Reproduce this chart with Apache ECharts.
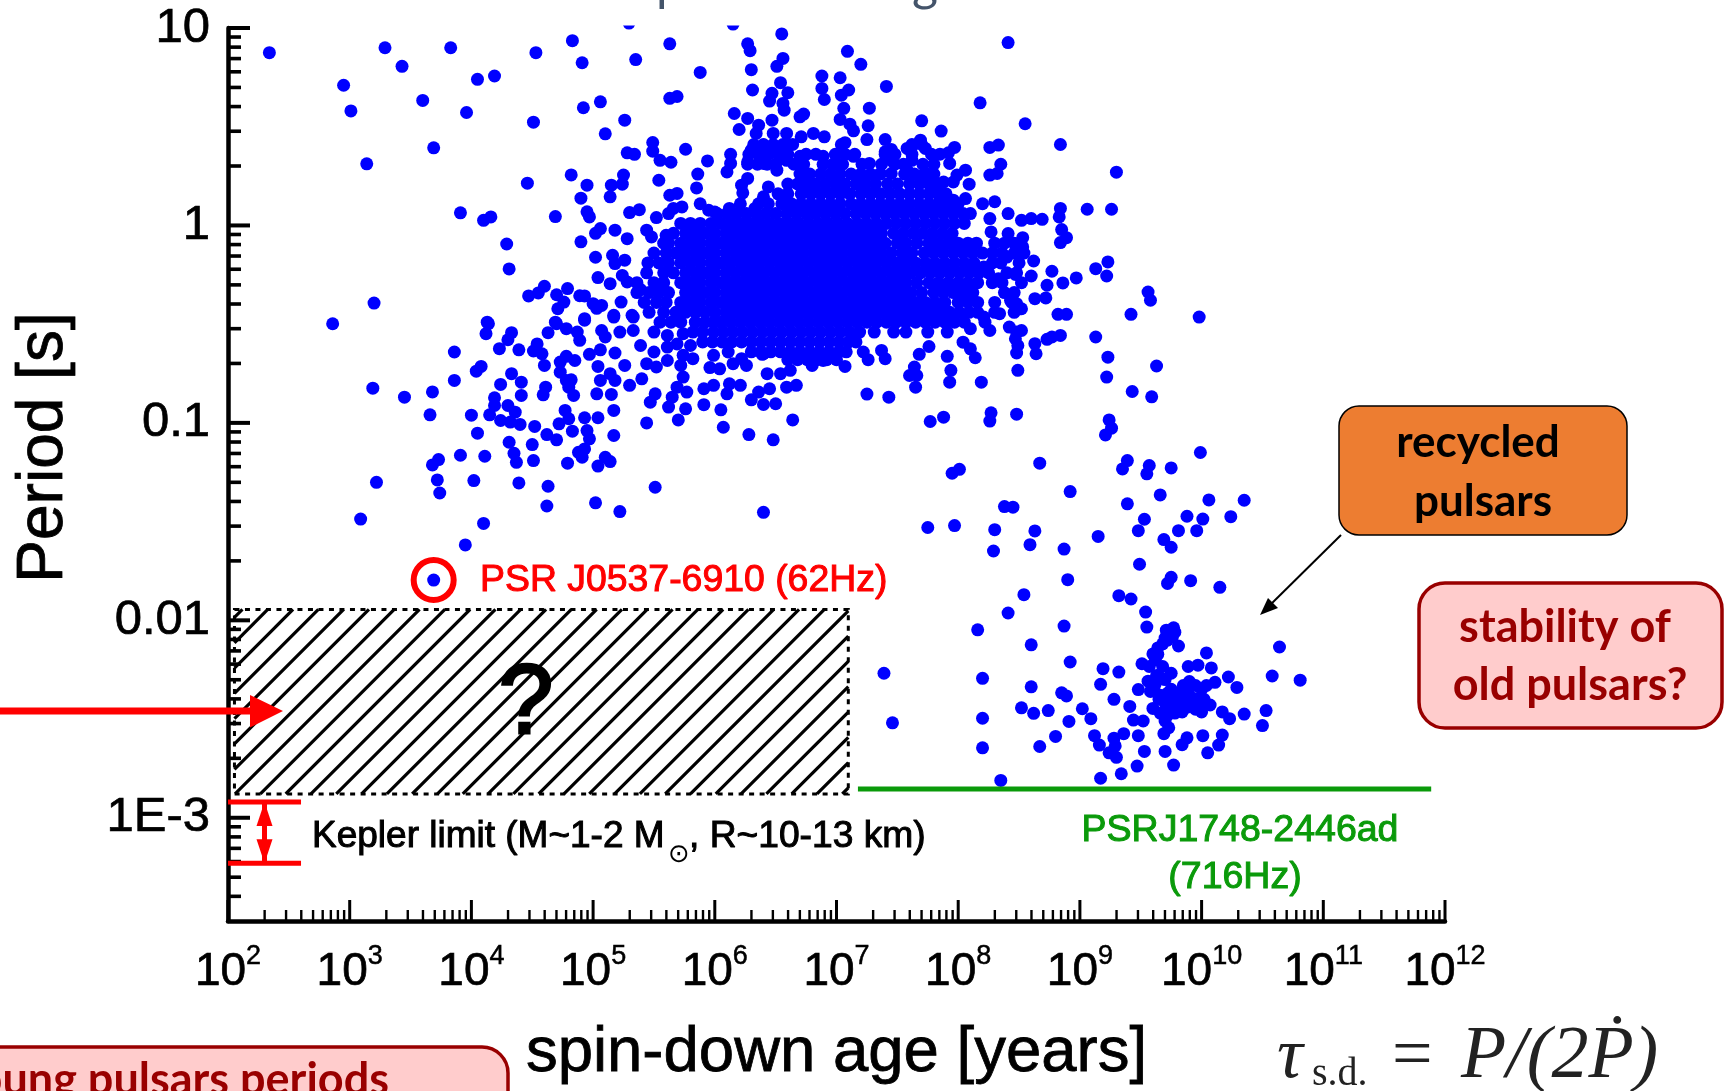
<!DOCTYPE html>
<html>
<head>
<meta charset="utf-8">
<title>Pulsar periods vs spin-down age</title>
<script src="https://cdn.jsdelivr.net/npm/echarts@6/dist/echarts.min.js"></script>
<style>
  html, body { margin: 0; padding: 0; background: #fff; }
  #chart { width: 1729px; height: 1091px; }
</style>
</head>
<body>
<div id="chart"></div>
<script>
// all pulsars as [log10 age in years, log10 period in s]
const scatteredPulsars = [
  [2.34,.875],[3.29,.90],[3.43,.806],[3.83,.90],[4.53,.875],[4.83,.936],[4.91,.824],[5.35,.84],[5.63,.92],[2.95,.71],
  [3.01,.58],[4.05,.74],[4.19,.757],[3.60,.633],[3.96,.572],[4.51,.523],[4.92,.596],[5.06,.626],[5.26,.533],[5.10,.464],
  [3.69,.393],[3.14,.312],[4.46,.214],[4.82,.256],[4.95,.204],[4.90,.138],[5.49,.42],[5.49,.376],[5.28,.368],[5.34,.36],
  [5.76,.386],[5.55,.33],[5.64,.32],[5.25,.255],[5.24,.209],[5.15,.204],[5.14,.145],[5.54,.229],[5.86,.26],[5.85,.19],
  [5.63,.153],[5.69,.162],[5.66,.086],[5.73,.094],[5.30,.065],[5.38,.08],[5.52,.04],[5.62,.06],[4.69,.045],[3.91,.064],
  [4.10,.026],[4.16,.043],[4.95,.069],[4.97,.043],[4.29,-.094],[4.31,-.22],[4.90,-.083],[5.02,-.161],[5.06,-.016],[5.02,-.04],
  [5.18,-.024],[5.28,-.067],[5.44,-.024],[5.48,-.058],[5.60,-.05],[5.58,-.09],[5.16,-.151],[5.26,-.176],[5.18,-.193],[5.24,-.253],
  [5.04,-.264],[5.14,-.295],[5.28,-.286],[5.39,-.325],[4.60,-.308],[4.55,-.342],[4.47,-.357],[4.79,-.32],[4.70,-.351],[4.76,-.388],
  [4.71,-.422],[4.89,-.356],[4.93,-.357],[5.00,-.396],[5.07,-.405],[5.03,-.42],[5.17,-.455],[5.32,-.455],[4.93,-.472],[5.23,-.388],
  [3.20,-.393],[2.86,-.498],[4.13,-.49],[4.69,-.49],[5.63,.644],[5.69,.653],[5.295,1.025],[6.15,1.02],
  [6.55,.97],[6.27,.92],[6.29,.885],[6.56,.846],[6.51,.806],[6.30,.789],[5.88,.775],[5.94,.327],[6.10,.271],[6.13,.314],
  [6.13,.36],[6.16,.567],[6.27,.542],[6.36,.508],[6.20,.486],[6.47,.533],[6.31,.686],[6.54,.723],[6.60,.672],[6.47,.669],
  [6.45,.63],[6.56,.618],[6.57,.584],[6.70,.55],[6.73,.564],[6.88,.757],[6.88,.694],[6.90,.638],[7.03,.748],[7.10,.686],
  [7.04,.66],[7.09,.882],[7.20,.816],[7.41,.704],[7.06,.593],[7.03,.537],[7.11,.513],[7.14,.479],[7.27,.594],[7.26,.505],
  [7.25,.435],[7.70,.53],[7.86,.478],[8.41,.926],[8.18,.621],[8.55,.515],[8.84,.41],[9.30,.27],[8.33,.407],[8.26,.395],
  [8.35,.31],[8.32,.263],[8.26,.255],[8.09,.209],[8.06,.28],[7.97,.395],[7.93,.314],[7.99,.255],[7.85,.361],[7.92,.368],
  [8.84,.086],[8.83,.043],[9.06,.082],[9.26,.082],[8.69,.031],[8.60,.035],[8.52,.026],[8.41,.06],[8.30,.12],[8.20,.11],
  [8.06,.136],[7.96,.128],[8.26,.035],[8.27,-.033],[8.85,-.021],[8.89,-.062],[8.84,-.087],[8.41,-.041],[8.53,-.062],[8.53,-.109],
  [8.62,-.18],[9.23,-.185],[9.13,-.219],[9.22,-.256],[8.77,-.232],[8.60,-.256],[8.97,-.266],[8.86,-.291],[8.73,-.303],[8.63,-.371],
  [8.72,-.367],[8.82,-.45],[8.89,-.45],[9.42,-.45],[8.47,-.248],[8.33,-.27],[8.21,-.21],[8.44,-.354],[8.51,-.422],[8.40,-.16],
  [7.69,.432],[7.62,.398],[7.58,.39],[7.73,.39],[7.40,.435],[7.45,.385],[7.40,.373],[7.45,.33],[7.36,.263],[7.45,.263],
  [7.62,.33],[7.73,.266],[7.58,.28],[7.88,.22],[7.96,.22],[7.82,.178],[7.85,.128],[7.07,.419],[6.90,.449],[6.81,.466],
  [6.71,.449],[6.59,.466],[6.48,.466],[6.34,.466],[6.59,.415],[6.30,.381],[6.40,.407],[6.52,.373],[6.27,.322],[6.40,.314],
  [6.51,.28],[6.59,.33],[6.70,.35],[6.89,.35],[7.00,.314],[7.14,.35],[7.27,.314],[6.22,.204],[6.27,.238],[6.23,.165],
  [6.44,.195],[6.40,.145],[6.21,.11],[6.12,.086],[6.33,.086],[5.88,.11],[5.95,.077],[6.00,.068],
  [4.14,-.498],[4.12,-.548],[4.33,-.543],[4.30,-.579],[3.86,-.641],[4.23,-.624],[4.39,-.63],[4.63,-.543],[4.70,-.498],[4.78,-.523],
  [4.87,-.54],[4.93,-.48],[4.89,-.582],[4.54,-.6],[4.51,-.636],[4.58,-.65],[4.60,-.709],[4.78,-.663],[4.85,-.684],[4.73,-.692],
  [4.73,-.743],[4.78,-.785],[4.82,-.782],[4.80,-.819],[4.84,-.861],[4.08,-.714],[4.04,-.738],[3.86,-.785],[4.33,-.751],[4.24,-.805],
  [4.41,-.794],[4.41,-.861],[4.61,-.819],[4.59,-.858],[3.19,-.824],[3.45,-.87],[3.68,-.843],[3.66,-.959],[4.19,-.873],[4.19,-.912],
  [4.15,-.959],[4.00,-.961],[4.30,-.912],[4.36,-.946],[4.24,-.988],[4.32,-.996],[4.40,-1.008],[4.05,-1.052],[4.52,-1.018],[4.77,-.937],
  [4.80,-.979],[4.72,-1.005],[4.83,-1.042],[4.93,-.974],[5.04,-.974],[5.17,-.937],[4.62,-1.059],[4.70,-1.086],[4.95,-1.039],[4.97,-1.081],
  [5.17,-1.064],[4.31,-1.098],[4.50,-1.11],[4.35,-1.154],[4.37,-1.2],[4.51,-1.191],[4.88,-1.149],[4.93,-1.132],[4.91,-1.174],[4.79,-1.204],
  [5.10,-1.174],[5.04,-1.219],[5.14,-1.196],[3.91,-1.164],[4.11,-1.169],[3.73,-1.186],[3.68,-1.213],[3.72,-1.289],[3.74,-1.355],[4.02,-1.292],
  [4.39,-1.304],[4.63,-1.321],[4.62,-1.421],[5.02,-1.405],[5.22,-1.449],[3.22,-1.301],[3.09,-1.487],[4.10,-1.509],[3.95,-1.618],[5.51,-1.326],
  [6.40,-1.453],[3.69,-1.796],
  [5.06,-.785],[5.14,-.751],[5.18,-.785],[5.03,-.853],[5.15,-.856],[5.30,-.81],[5.26,-.709],[5.18,-.646],[5.04,-.714],[4.97,-.653],
  [5.06,-.63],[5.10,-.565],[5.07,-.532],[5.17,-.464],[5.22,-.54],[5.33,-.464],[5.40,-.777],[5.51,-.853],[5.47,-.895],[5.44,-1.0],
  [5.65,-.87],[5.62,-.92],[5.76,-.929],[5.70,-.985],[5.77,-.844],[5.69,-.819],[5.74,-.768],[5.91,-.908],[5.91,-.827],[5.99,-.81],
  [6.05,-.934],[6.07,-1.022],[6.28,-1.059],[6.48,-1.086],[6.64,-.985],[6.10,-.853],[6.12,-.802],[6.21,-.81],[6.30,-.883],[6.36,-.844],
  [6.45,-.827],[6.40,-.907],[6.50,-.903],[6.59,-.819],[6.67,-.81],[6.43,-.751],[6.54,-.751],[6.39,-.653],[6.26,-.709],[6.15,-.7],
  [5.99,-.658],[6.04,-.726],[5.96,-.72],[6.11,-.641],[6.22,-.675],[5.33,-.532],[5.39,-.608],[5.50,-.54],[5.61,-.557],[5.74,-.548],
  [5.80,-.608],[5.82,-.675],[5.50,-.641],[5.61,-.616],[5.69,-.6],[5.44,-.7],[5.52,-.717],[5.61,-.684],[5.72,-.709],[5.74,-.658],
  [9.56,-.337],[9.58,-.379],[9.98,-.464],[9.13,-.565],[9.23,-.667],[9.63,-.712],[9.22,-.768],[9.43,-.841],[9.59,-.868],[9.24,-.985],
  [9.26,-1.027],[9.21,-1.061],[8.84,-.557],[8.77,-.565],[8.73,-.577],[8.63,-.599],[8.64,-.65],[8.48,-.646],[8.49,-.608],[8.47,-.574],
  [8.49,-.734],[8.19,-.794],[7.94,-.734],[7.93,-.794],[7.65,-.819],[7.60,-.76],[7.66,-.76],[7.64,-.717],[7.25,-.854],[7.43,-.87],
  [7.77,-.993],[7.88,-.971],[8.27,-.949],[8.26,-.991],[8.48,-.956],[7.76,-.613],[7.68,-.653],[7.91,-.663],[8.04,-.591],[8.10,-.625],
  [8.14,-.67],[7.37,-.633],[7.40,-.675],[7.22,-.641],[7.26,-.68],[7.07,-.714],[6.80,-.709],[6.89,-.684],[6.62,-.734],[6.40,-.65],
  [8.10,-.523],[8.26,-.532],[8.42,-.515],[8.48,-.54],[8.52,-.532],[8.52,-.422],[8.43,-.379],[8.48,-.396],[8.21,-.464],[8.34,-.447]
];

const recycledPulsars = [
  [9.99,-1.15],[8.67,-1.204],[9.39,-1.191],[9.35,-1.233],[9.57,-1.216],[9.55,-1.258],[9.75,-1.228],[8.01,-1.235],[7.95,-1.255],[8.92,-1.348],
  [8.38,-1.424],[8.45,-1.427],[9.66,-1.365],[9.39,-1.41],[10.06,-1.39],[10.35,-1.392],[10.24,-1.475],[9.88,-1.473],[10.01,-1.487],[9.53,-1.488],
  [9.48,-1.546],[9.81,-1.546],[9.96,-1.546],[9.15,-1.575],[9.69,-1.591],[9.75,-1.63],[7.75,-1.53],[7.97,-1.52],[8.30,-1.541],[8.63,-1.547],
  [8.59,-1.617],[8.29,-1.649],[8.87,-1.639],[9.49,-1.716],[8.90,-1.794],[9.75,-1.782],[9.72,-1.813],[9.91,-1.799],[10.15,-1.833],[8.54,-1.87],
  [9.32,-1.875],[9.42,-1.892],[9.54,-1.958],[9.55,-2.034],[9.77,-2.038],[9.71,-2.05],[9.76,-2.084],[9.68,-2.119],[9.81,-2.13],[9.64,-2.172],
  [10.04,-2.165],[10.64,-2.135],[8.16,-2.048],[8.41,-1.963],[8.87,-2.029],[8.60,-2.124],[7.39,-2.268],[7.46,-2.519],[8.20,-2.294],[8.20,-2.496],
  [8.20,-2.646],[8.35,-2.811],[8.92,-2.211],[8.60,-2.337],[8.85,-2.367],[8.89,-2.383],[8.52,-2.443],[8.62,-2.471],[8.74,-2.457],[8.91,-2.512],
  [9.02,-2.448],[9.09,-2.498],[8.80,-2.588],[8.67,-2.639],[9.19,-2.245],[9.32,-2.262],[9.17,-2.324],[9.28,-2.4],[9.48,-2.351],[9.51,-2.22],
  [9.57,-2.234],[9.68,-2.234],[9.61,-2.337],[9.56,-2.308],[9.63,-2.28],[9.75,-2.268],[9.89,-2.234],[9.97,-2.227],[10.08,-2.241],[10.11,-2.314],
  [9.90,-2.31],[9.75,-2.349],[9.89,-2.349],[10.0,-2.349],[10.22,-2.287],[10.29,-2.34],[10.58,-2.282],[10.81,-2.303],[10.53,-2.457],[10.50,-2.533],
  [10.35,-2.475],[10.23,-2.498],[10.17,-2.464],[10.07,-2.429],[10.0,-2.464],[9.89,-2.429],[9.79,-2.395],[9.70,-2.418],[9.60,-2.446],[9.84,-2.464],
  [9.73,-2.452],[9.93,-2.395],[9.41,-2.436],[9.44,-2.505],[9.52,-2.51],[9.70,-2.51],[9.73,-2.544],[9.69,-2.574],[9.36,-2.574],[9.48,-2.584],
  [9.12,-2.584],[9.28,-2.597],[9.16,-2.632],[9.29,-2.636],[9.24,-2.671],[9.30,-2.694],[9.53,-2.664],[9.70,-2.664],[9.88,-2.595],[9.84,-2.63],
  [10.01,-2.584],[10.17,-2.581],[10.14,-2.632],[10.05,-2.671],[9.47,-2.738],[9.77,-2.733],[9.34,-2.777],[9.17,-2.8],
  [9.80,-2.43],[9.66,-2.47],[9.95,-2.45],[9.75,-2.41],[9.85,-2.40],[9.66,-2.38],
  [9.65,-2.40],[9.72,-2.37],[9.80,-2.37],[9.84,-2.40],[9.88,-2.44],[9.92,-2.42],[9.96,-2.40],[10.02,-2.40],[9.98,-2.43],[9.76,-2.44],
  [9.82,-2.44],[9.72,-2.48],[9.78,-2.47],[9.62,-2.32],[9.58,-2.36],[9.66,-2.29],[9.70,-2.30],[9.85,-2.33],[9.95,-2.33],[10.04,-2.33],
  [9.60,-2.17],[9.72,-2.10],[9.78,-2.06],[9.70,-2.09],[9.64,-2.14],[9.62,-2.20]
];

// the middle of the cloud is solid blue, single points cannot be told apart there,
// so these are estimated by row: [log10 period, [log10 ages]]
const denseCoreRows = [
  [.41, [6.32,6.40,6.48,6.56,6.64,7.04,7.62,7.70]],
  [.36, [6.28,6.36,6.44,6.52,6.60,6.75,6.83,6.99,7.07,7.15,7.40,7.48,7.62,7.78]],
  [.31, [6.27,6.35,6.43,6.50,6.65,6.73,6.89,6.97,7.05,7.21,7.37,7.48,7.55,7.71,7.80]],
  [.26, [6.70,6.78,6.87,6.95,7.03,7.12,7.20,7.28,7.36,7.56,7.64,7.72,7.80]],
  [.21, [6.60,6.68,6.75,6.83,6.91,6.99,7.07,7.16,7.24,7.32,7.42,7.50,7.60,7.68,7.76,7.84]],
  [.16, [6.52,6.60,6.71,6.79,6.87,6.95,7.03,7.11,7.20,7.28,7.36,7.44,7.52,7.60,7.68,7.76,7.84,7.90]],
  [.11, [6.36,6.44,6.55,6.63,6.71,6.79,6.87,6.95,7.03,7.12,7.20,7.28,7.36,7.44,7.52,7.60,7.68,7.76,7.84,7.92,8.00]],
  [.06, [6.02,6.10,6.18,6.26,6.34,6.42,6.50,6.59,6.67,6.75,6.83,6.91,6.99,7.07,7.16,7.24,7.32,7.40,7.48,7.56,7.64,7.72,7.80,7.88,7.96,8.04,8.10]],
  [.01, [5.72,5.80,5.88,5.97,6.05,6.13,6.21,6.29,6.37,6.45,6.53,6.61,6.69,6.77,6.85,6.93,7.01,7.09,7.17,7.25,7.33,7.41,7.49,7.57,7.65,7.73,7.81,7.89,7.97,8.05]],
  [-.04,[5.66,5.76,5.84,5.92,6.00,6.09,6.17,6.25,6.33,6.41,6.49,6.57,6.65,6.73,6.81,6.89,6.97,7.05,7.13,7.21,7.29,7.37,7.47,7.55,7.63,7.71,7.79,7.87,7.95]],
  [-.09,[5.62,5.72,5.80,5.88,5.97,6.05,6.13,6.21,6.29,6.37,6.45,6.53,6.61,6.69,6.77,6.85,6.93,7.01,7.09,7.17,7.25,7.33,7.40,7.50,7.57,7.66,7.76,7.84,7.92,8.00,8.08,8.15,8.30,8.38,8.46]],
  [-.14,[5.50,5.60,5.68,5.76,5.84,5.92,6.00,6.09,6.17,6.25,6.33,6.41,6.49,6.57,6.65,6.73,6.81,6.89,6.97,7.05,7.13,7.21,7.29,7.37,7.45,7.54,7.62,7.72,7.80,7.88,7.96,8.04,8.12,8.20,8.28,8.36,8.46,8.54]],
  [-.19,[5.45,5.54,5.62,5.72,5.80,5.88,5.97,6.05,6.13,6.21,6.29,6.37,6.45,6.53,6.61,6.69,6.77,6.85,6.93,7.01,7.09,7.17,7.25,7.33,7.41,7.49,7.57,7.65,7.73,7.81,7.89,7.97,8.05,8.13,8.28,8.35,8.50]],
  [-.24,[5.44,5.58,5.66,5.76,5.84,5.92,6.00,6.09,6.17,6.25,6.33,6.41,6.49,6.57,6.65,6.73,6.81,6.89,6.97,7.05,7.13,7.21,7.29,7.37,7.45,7.53,7.61,7.69,7.77,7.85,7.93,8.01,8.09,8.17,8.25,8.40,8.48]],
  [-.29,[5.36,5.50,5.58,5.72,5.80,5.88,5.97,6.05,6.13,6.21,6.29,6.37,6.45,6.53,6.61,6.69,6.77,6.85,6.93,7.01,7.09,7.17,7.25,7.33,7.41,7.49,7.57,7.66,7.76,7.84,7.92,8.00,8.08,8.16,8.28,8.36,8.52]],
  [-.34,[5.36,5.46,5.54,5.62,5.76,5.84,5.92,6.00,6.09,6.17,6.25,6.33,6.41,6.49,6.57,6.65,6.73,6.81,6.89,6.97,7.05,7.13,7.21,7.29,7.37,7.45,7.53,7.61,7.70,7.80,7.88,7.96,8.04,8.12,8.38,8.46]],
  [-.39,[5.42,5.52,5.60,5.72,5.80,5.88,5.97,6.05,6.13,6.21,6.29,6.37,6.45,6.53,6.61,6.69,6.77,6.85,6.93,7.01,7.09,7.17,7.25,7.33,7.41,7.49,7.57,7.65,7.73,7.81,7.89,8.00,8.08,8.16,8.30,8.44]],
  [-.44,[5.46,5.58,5.68,5.76,5.84,5.92,6.00,6.09,6.17,6.25,6.33,6.41,6.49,6.57,6.65,6.73,6.81,6.89,6.97,7.05,7.13,7.21,7.29,7.37,7.45,7.53,7.61,7.69,7.77,7.85,7.93,8.01,8.09,8.16,8.30,8.46]],
  [-.49,[5.55,5.64,5.72,5.84,5.92,5.99,6.05,6.13,6.21,6.29,6.37,6.45,6.53,6.61,6.69,6.77,6.85,6.93,7.01,7.09,7.17,7.25,7.33,7.41,7.49,7.57,7.65,7.73,7.81,7.89,7.97,8.05,8.22]],
  [-.54,[5.82,5.90,5.99,6.07,6.15,6.23,6.31,6.39,6.47,6.55,6.63,6.71,6.79,6.87,6.95,7.03,7.11,7.19,7.31,7.47,7.57,7.75,7.91]],
  [-.59,[5.90,5.98,6.06,6.14,6.22,6.30,6.38,6.46,6.54,6.62,6.70,6.78,6.86,6.94,7.02,7.10,7.16]],
  [-.64,[6.30,6.38,6.46,6.54,6.62,6.70,6.78,6.86,6.94,7.02,7.08]],
  [-.68,[6.60,6.68,6.76,6.84,6.92,7.00]]
];

const youngPulsarHighlight = [3.69, -1.796];

const xTickExponents = [2,3,4,5,6,7,8,9,10,11,12];
const yTickValues = [1e-3,0.01,0.1,1,10];
const yTickLabels = ['1E-3','0.01','0.1','1','10'];
const yMin = 3e-4, yMax = 10, xMin = 1e2, xMax = 1e12;

// hatched "?" region, fastest pulsar line and Kepler limit band
const hatchX = [113, 1.25e7], hatchY = [0.00132, 0.01135];
const fastestPulsarPeriod = 1 / 716;
const fastestPulsarX = [1.5e7, 7.7e11];
const keplerPeriods = [10 ** -2.92, 10 ** -3.23];
const keplerBarEnd = 10 ** 2.6, keplerArrowX = 10 ** 2.3;

function toValues(pairs) {
  return pairs.map(p => [10 ** p[0], 10 ** p[1]]);
}
const coreValues = [];
denseCoreRows.forEach(r => r[1].forEach(x => coreValues.push([10 ** x, 10 ** r[0]])));

// log minor ticks 2..9 in every decade
const xMinorTicks = [], yMinorTicks = [];
for (let e = 2; e < 12; e++) for (let m = 2; m < 10; m++) xMinorTicks.push(m * 10 ** e);
for (let e = -4; e < 1; e++) for (let m = 2; m < 10; m++) {
  const v = m * 10 ** e;
  if (v > yMin * 1.01 && v < yMax) yMinorTicks.push(v);
}

const chart = echarts.init(document.getElementById('chart'));
const sans = '"Liberation Sans", Arial, sans-serif';
const slide = 'Lato, "Open Sans", sans-serif';

const HATCH_ANGLE = 45 * Math.PI / 180, HATCH_STEP = 25.3, HATCH_PHASE = 8;

function drawHatch(params, api) {
  const a = api.coord([hatchX[0], hatchY[1]]);
  const b = api.coord([hatchX[1], hatchY[0]]);
  const l = a[0], t = a[1], r = b[0], bt = b[1];
  const h = bt - t;
  const run = h / Math.tan(HATCH_ANGLE);
  const lines = [];
  for (let c = l - run + HATCH_PHASE; c < r; c += HATCH_STEP) {
    // c is where the stroke leaves the bottom edge
    let x1 = c, y1 = bt, x2 = c + run, y2 = t;
    if (x1 < l) { y1 = bt - (l - x1) * Math.tan(HATCH_ANGLE); x1 = l; }
    if (x2 > r) { y2 = t + (x2 - r) * Math.tan(HATCH_ANGLE); x2 = r; }
    lines.push({ type: 'line', shape: { x1, y1, x2, y2 }, style: { stroke: '#000', lineWidth: 3.2 } });
  }
  lines.push({ type: 'rect', shape: { x: l, y: t, width: r - l, height: h },
    style: { fill: 'none', stroke: '#000', lineWidth: 3, lineDash: [5, 5.5] } });
  return { type: 'group', children: lines };
}

function drawKeplerArrow(params, api) {
  const a = api.coord([keplerArrowX, keplerPeriods[0]]);
  const b = api.coord([keplerArrowX, keplerPeriods[1]]);
  const x = a[0];
  return { type: 'group', children: [
    { type: 'line', shape: { x1: x, y1: a[1], x2: x, y2: b[1] }, style: { stroke: '#f00', lineWidth: 5 } },
    { type: 'polygon', shape: { points: [[x, a[1]], [x + 8, a[1] + 24], [x - 8, a[1] + 24]] }, style: { fill: '#f00' } },
    { type: 'polygon', shape: { points: [[x, b[1]], [x + 8, b[1] - 24], [x - 8, b[1] - 24]] }, style: { fill: '#f00' } }
  ] };
}

function tickSeries(values, isX, len, width) {
  return {
    type: 'custom', coordinateSystem: 'cartesian2d', silent: true, clip: false, z: 3,
    data: values.map(v => isX ? [v, yMin] : [xMin, v]),
    renderItem(params, api) {
      const p = api.coord([api.value(0), api.value(1)]);
      return { type: 'line',
        shape: isX ? { x1: p[0], y1: p[1], x2: p[0], y2: p[1] - len } : { x1: p[0], y1: p[1], x2: p[0] + len, y2: p[1] },
        style: { stroke: '#000', lineWidth: width } };
    }
  };
}

function txt(text, x, y, size, fill, extra) {
  return { type: 'text', x, y, z: 100, silent: true, style: Object.assign({
    text, fill, font: size + 'px ' + sans, textAlign: 'left', textVerticalAlign: 'middle',
    stroke: fill, lineWidth: 1 }, extra || {}) };
}
const noStroke = { lineWidth: 0, stroke: 'none' };

const option = {
  animation: false,
  backgroundColor: '#fff',
  grid: { left: 228, right: 284, top: 28, bottom: 170, outerBoundsMode: 'none' },
  xAxis: {
    type: 'log', logBase: 10, min: xMin, max: xMax,
    name: 'spin-down age [years]', nameLocation: 'middle', nameGap: 100,
    nameTextStyle: { fontFamily: sans, fontSize: 63.5, color: '#000', textBorderColor: '#000', textBorderWidth: 0.8 },
    axisLine: { show: true, lineStyle: { color: '#000', width: 4.5 } },
    axisTick: { show: false },
    minorTick: { show: false },
    splitLine: { show: false },
    axisLabel: {
      margin: 22, showMinLabel: true, showMaxLabel: true, color: '#000',
      formatter: v => '{b|10}{s|' + Math.round(Math.log10(v)) + '}',
      rich: {
        b: { fontFamily: sans, fontSize: 46, verticalAlign: 'bottom', lineHeight: 52, color: '#000', textBorderColor: '#000', textBorderWidth: 0.7 },
        s: { fontFamily: sans, fontSize: 27, verticalAlign: 'top', lineHeight: 52, color: '#000', textBorderColor: '#000', textBorderWidth: 0.5 }
      }
    }
  },
  yAxis: {
    type: 'log', logBase: 10, min: yMin, max: yMax,
    name: 'Period [s]', nameLocation: 'middle', nameGap: 152,
    nameTextStyle: { fontFamily: sans, fontSize: 64, color: '#000', padding: [0, 0, 0, 54], textBorderColor: '#000', textBorderWidth: 0.8 },
    axisLine: { show: true, lineStyle: { color: '#000', width: 4.5 } },
    axisTick: { show: false },
    splitLine: { show: false },
    axisLabel: {
      margin: 18, color: '#000', fontFamily: sans, fontSize: 49,
      textBorderColor: '#000', textBorderWidth: 0.7,
      customValues: yTickValues,
      formatter: v => {
        const i = yTickValues.findIndex(t => Math.abs(Math.log10(t) - Math.log10(v)) < 1e-6);
        return i >= 0 ? yTickLabels[i] : '';
      }
    }
  },
  series: [
    tickSeries(xTickExponents.map(e => 10 ** e), true, 21, 3),
    tickSeries(xMinorTicks, true, 11, 2.4),
    tickSeries(yTickValues, false, 22, 4),
    tickSeries(yMinorTicks, false, 13, 3.6),
    {
      type: 'scatter', name: 'pulsars', clip: false, silent: true, z: 4,
      symbol: 'circle', symbolSize: 13, itemStyle: { color: '#0000ff', opacity: 1 },
      data: toValues(scatteredPulsars).concat(coreValues, toValues(recycledPulsars)),
      large: false
    },
    {
      type: 'scatter', name: 'PSR J0537-6910', clip: false, silent: true, z: 5,
      symbol: 'circle', symbolSize: 40,
      itemStyle: { color: 'rgba(0,0,0,0)', borderColor: '#f00', borderWidth: 6, opacity: 1 },
      data: toValues([youngPulsarHighlight])
    },
    {
      type: 'line', name: 'PSRJ1748-2446ad', silent: true, symbol: 'none', z: 5,
      lineStyle: { color: '#0a9a0a', width: 5 },
      data: [[fastestPulsarX[0], fastestPulsarPeriod], [fastestPulsarX[1], fastestPulsarPeriod]]
    },
    {
      type: 'line', silent: true, symbol: 'none', z: 6,
      lineStyle: { color: '#f00', width: 5 },
      data: [[xMin, keplerPeriods[0]], [keplerBarEnd, keplerPeriods[0]]]
    },
    {
      type: 'line', silent: true, symbol: 'none', z: 6,
      lineStyle: { color: '#f00', width: 5 },
      data: [[xMin, keplerPeriods[1]], [keplerBarEnd, keplerPeriods[1]]]
    },
    { type: 'custom', silent: true, clip: false, z: 6, data: [[keplerArrowX, keplerPeriods[0]]], renderItem: drawKeplerArrow },
    { type: 'custom', silent: true, clip: false, z: 3, data: [[hatchX[0], hatchY[0]]], renderItem: drawHatch }
  ],
  graphic: [
    // dots above the top of the axis are cut off in the original
    { type: 'rect', z: 90, silent: true, shape: { x: 232, y: 0, width: 1240, height: 25.5 }, style: { fill: '#fff' } },
    // bottoms of the clipped slide title
    txt('p', 670, -16, 50, '#44546a', Object.assign({ font: '50px ' + slide, textAlign: 'center' }, noStroke)),
    txt('g', 925, -16, 50, '#44546a', Object.assign({ font: '50px ' + slide, textAlign: 'center' }, noStroke)),

    txt('PSR J0537-6910 (62Hz)', 480, 581, 37.4, '#f00'),
    txt('?', 526, 706, 98, '#000', { textAlign: 'center', lineWidth: 3 }),
    txt('Kepler limit (M~1-2 M', 312, 837, 37, '#000'),
    txt('\u2299', 679, 855, 26, '#000', Object.assign({ font: '26px "DejaVu Sans"', textAlign: 'center' }, noStroke)),
    txt(', R~10-13 km)', 689, 837, 37.2, '#000'),
    txt('PSRJ1748-2446ad', 1240, 831, 37.5, '#0a9a0a', { textAlign: 'center' }),
    txt('(716Hz)', 1235, 878, 37.5, '#0a9a0a', { textAlign: 'center' }),

    // red arrow coming in from the left of the slide
    { type: 'line', z: 95, silent: true, shape: { x1: 0, y1: 711, x2: 256, y2: 711 }, style: { stroke: '#f00', lineWidth: 7 } },
    { type: 'polygon', z: 95, silent: true, shape: { points: [[250, 695], [283, 711], [250, 727.5]] }, style: { fill: '#f00' } },

    // callouts
    { type: 'rect', z: 95, silent: true, shape: { x: 1339, y: 406, width: 288, height: 129, r: 20 },
      style: { fill: '#ed7d31', stroke: '#000', lineWidth: 1.5 } },
    txt('recycled', 1478, 443, 44, '#000', Object.assign({ font: 'bold 44px ' + slide, textAlign: 'center' }, noStroke)),
    txt('pulsars', 1483, 502, 44, '#000', Object.assign({ font: 'bold 44px ' + slide, textAlign: 'center' }, noStroke)),
    { type: 'line', z: 95, silent: true, shape: { x1: 1341, y1: 535, x2: 1265, y2: 610 }, style: { stroke: '#000', lineWidth: 2 } },
    { type: 'polygon', z: 95, silent: true, shape: { points: [[1260, 615], [1268, 598], [1278, 608]] }, style: { fill: '#000' } },

    { type: 'rect', z: 95, silent: true, shape: { x: 1419, y: 583, width: 303, height: 145, r: 26 },
      style: { fill: '#ffcccc', stroke: '#990000', lineWidth: 3.5 } },
    txt('stability of', 1565, 627, 45, '#990000', Object.assign({ font: 'bold 45px ' + slide, textAlign: 'center' }, noStroke)),
    txt('old pulsars?', 1570, 685, 45, '#990000', Object.assign({ font: 'bold 45px ' + slide, textAlign: 'center' }, noStroke)),

    { type: 'rect', z: 95, silent: true, shape: { x: -40, y: 1047, width: 548, height: 90, r: 26 },
      style: { fill: '#ffcccc', stroke: '#990000', lineWidth: 3.5 } },
    txt('young pulsars periods', 389, 1080, 45, '#990000', Object.assign({ font: 'bold 45px ' + slide, textAlign: 'right' }, noStroke)),

    // tau formula under the axis
    txt('\u03c4', 1277, 1058, 72, '#222', Object.assign({ font: 'italic 72px "Liberation Serif"' }, noStroke)),
    txt('s.d.', 1312, 1074, 40, '#222', Object.assign({ font: '40px "Liberation Serif"' }, noStroke)),
    txt('=', 1392, 1058, 72, '#222', Object.assign({ font: '72px "Liberation Serif"' }, noStroke)),
    txt('P/(2P\u0307)', 1461, 1058, 74, '#222', Object.assign({ font: 'italic 74px "Liberation Serif"' }, noStroke))
  ]
};
chart.setOption(option);
</script>
</body>
</html>
